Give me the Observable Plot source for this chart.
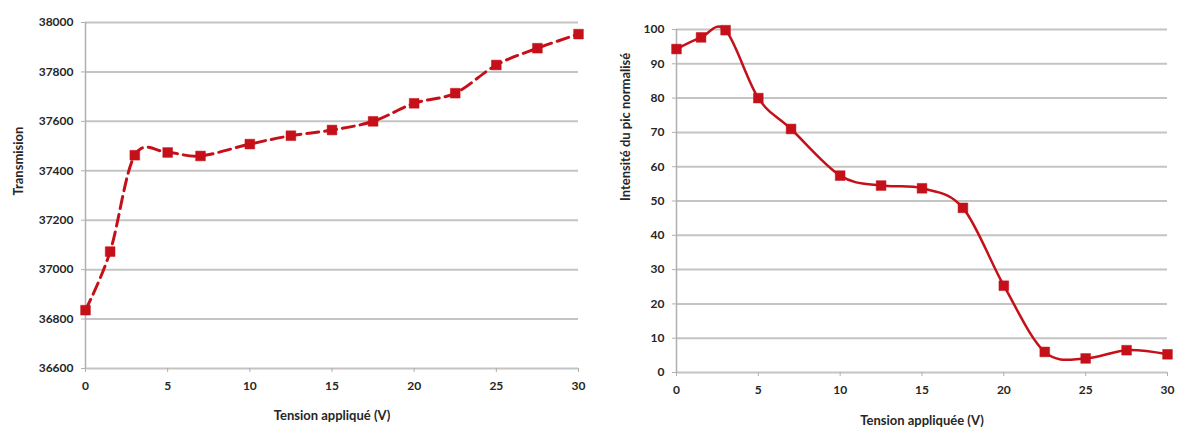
<!DOCTYPE html>
<html>
<head>
<meta charset="utf-8">
<script src="https://cdn.jsdelivr.net/npm/d3@7"></script>
<script src="https://cdn.jsdelivr.net/npm/@observablehq/plot@0.6"></script>
<style>
  html, body { margin: 0; padding: 0; background: #fff; }
  #wrap { display: flex; width: 1180px; height: 431px; overflow: hidden; }
  #wrap > div { width: 590px; height: 431px; }
  svg { display: block; }
</style>
</head>
<body>
<div id="wrap"><div id="left"></div><div id="right"></div></div>
<script>
// Shared x values (applied voltage, V)
const tension = [0, 1.5, 3, 5, 7, 10, 12.5, 15, 17.5, 20, 22.5, 25, 27.5, 30];
// Left chart: transmission
const transmission = [36836, 37073, 37463, 37474, 37460, 37508, 37542, 37565, 37600, 37673, 37714, 37828, 37896, 37953];
// Right chart: normalized peak intensity
const intensite = [94.3, 97.7, 99.8, 80, 71, 57.4, 54.5, 53.7, 48, 25.3, 6.0, 4.1, 6.5, 5.3];

const xTicks = [0, 5, 10, 15, 20, 25, 30];
const yTicksLeft = [36600, 36800, 37000, 37200, 37400, 37600, 37800, 38000];
const yTicksRight = [0, 10, 20, 30, 40, 50, 60, 70, 80, 90, 100];

const leftTitleX = "Tension appliqué (V)";
const leftTitleY = "Transmision";
const rightTitleX = "Tension appliquée (V)";
const rightTitleY = "Intensité du pic normalisé";

const RED = "#c5101a";
const GRID = "#c4c4c4";
const AXIS = "#b0b0b0";
const TXT = "#262626";
const FONT = "Lato, 'Open Sans', sans-serif";

const leftData = tension.map((t, i) => ({t, v: transmission[i]}));
const rightData = tension.map((t, i) => ({t, v: intensite[i]}));

function makeChart({data, yDomain, yTicks, titleX, titleY, margins, dashed, titleXdy}) {
  return Plot.plot({
    width: 590,
    height: 431,
    ...margins,
    style: {fontFamily: FONT, fontSize: "12px", fontWeight: "bold", background: "#fff"},
    x: {domain: [0, 30]},
    y: {domain: yDomain},
    marks: [
      Plot.ruleY(yTicks, {stroke: GRID, strokeWidth: 2}),
      Plot.ruleX([0], {stroke: AXIS, strokeWidth: 1.5}),
      Plot.axisX({ticks: xTicks, tickSize: 4, tickPadding: 9, stroke: AXIS, fill: TXT, label: null, fontWeight: "bold", fontSize: 12}),
      Plot.axisY({ticks: yTicks, tickSize: 4, tickPadding: 8, stroke: AXIS, fill: TXT, label: null, tickFormat: d => String(d), fontWeight: "bold", fontSize: 12}),
      Plot.line(data, {
        x: "t", y: "v", stroke: RED, strokeWidth: dashed ? 3 : 2.5,
        curve: "cardinal", tension: 0,
        strokeDasharray: dashed ? "12,6" : null
      }),
      Plot.dot(data, {x: "t", y: "v", symbol: "square", r: 5.5, fill: RED, stroke: RED, strokeWidth: 0.5}),
      Plot.text([titleX], {frameAnchor: "bottom", dy: titleXdy, fontSize: 13, fontWeight: "bold", fill: TXT, text: d => d}),
      Plot.text([titleY], {frameAnchor: "left", dx: margins.titleYdx, rotate: -90, fontSize: 13, fontWeight: "bold", fill: TXT, text: d => d})
    ]
  });
}

document.getElementById("left").append(makeChart({
  data: leftData,
  yDomain: [36600, 38000],
  yTicks: yTicksLeft,
  titleX: leftTitleX,
  titleY: leftTitleY,
  margins: {marginLeft: 85, marginRight: 12, marginTop: 22, marginBottom: 63, titleYdx: -67},
  dashed: true,
  titleXdy: 51
}));

document.getElementById("right").append(makeChart({
  data: rightData,
  yDomain: [0, 100],
  yTicks: yTicksRight,
  titleX: rightTitleX,
  titleY: rightTitleY,
  margins: {marginLeft: 86, marginRight: 13, marginTop: 29, marginBottom: 59, titleYdx: -51},
  dashed: false,
  titleXdy: 52
}));
</script>
</body>
</html>
